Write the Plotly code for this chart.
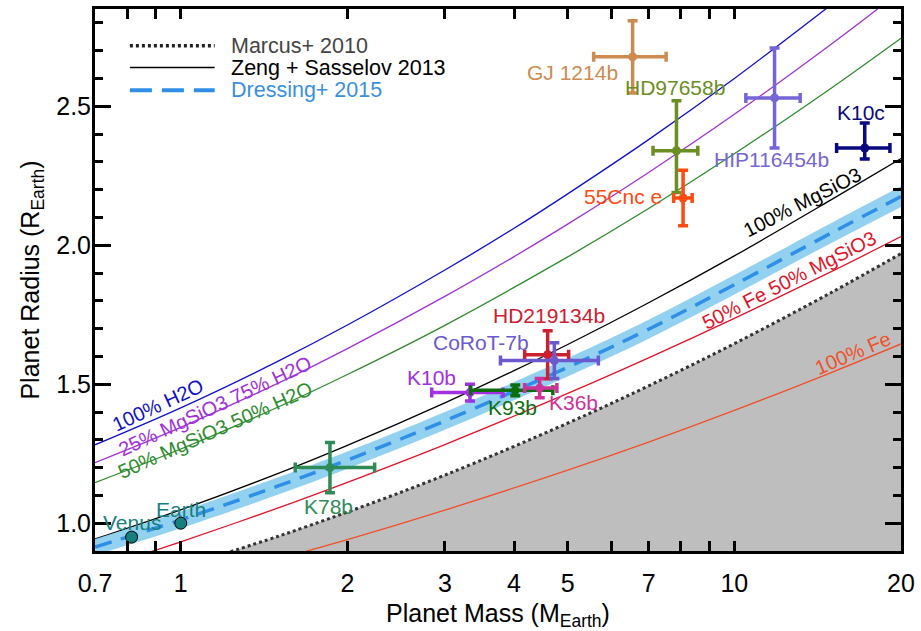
import numpy as np
import plotly.graph_objects as go

# ---------------- data ----------------
# composition curves (Zeng + Sasselov 2013)
h2o_m = [0.7, 1, 1.5, 2, 3, 4, 5, 7, 10, 15]
h2o_r = [1.282, 1.415, 1.583, 1.713, 1.911, 2.061, 2.185, 2.380, 2.600, 2.867]

mg25_m = [0.7, 1, 1.5, 2, 3, 4, 5, 7, 10, 15, 20]
mg25_r = [1.218, 1.345, 1.504, 1.628, 1.816, 1.959, 2.076, 2.262, 2.471, 2.725, 2.915]

mg50_m = [0.7, 1, 1.5, 2, 3, 5, 7, 10, 15, 20]
mg50_r = [1.146, 1.267, 1.418, 1.535, 1.712, 1.958, 2.132, 2.329, 2.567, 2.745]

mgsio3_m = [0.7, 1, 1.5, 2, 3, 4, 5, 7, 10, 15, 20]
mgsio3_r = [0.943, 1.048, 1.179, 1.280, 1.433, 1.549, 1.643, 1.793, 1.962, 2.165, 2.312]

fe50_m = [0.86, 1, 1.5, 2, 3, 5, 7, 10, 15, 20]
fe50_r = [0.890, 0.933, 1.055, 1.147, 1.283, 1.467, 1.595, 1.737, 1.906, 2.031]

fe100_m = [1.6, 2, 3, 5, 7, 10, 15, 20]
fe100_r = [0.887, 0.941, 1.047, 1.191, 1.292, 1.406, 1.543, 1.645]

# Marcus+ 2010 (maximum collisional stripping)
marcus_m = [1.2, 1.5, 2, 3, 5, 7, 10, 15, 20]
marcus_r = [0.891, 0.953, 1.040, 1.173, 1.360, 1.494, 1.646, 1.831, 1.970]

# Dressing+ 2015 (Earth-like composition) with its band
dressing_m = [0.7, 1, 1.5, 2, 3, 5, 7, 10, 15, 20]
dressing_r = [0.914, 1.012, 1.134, 1.227, 1.368, 1.561, 1.698, 1.858, 2.045, 2.175]
dressing_hi = [0.943, 1.042, 1.165, 1.258, 1.400, 1.594, 1.732, 1.893, 2.081, 2.212]
dressing_lo = [0.885, 0.982, 1.103, 1.196, 1.336, 1.528, 1.664, 1.823, 2.009, 2.138]

# Solar system
solar_names = ["Venus", "Earth"]
solar_m = [0.815, 1.0]
solar_r = [0.95, 1.0]
solar_label_m = [0.816, 1.0]
solar_label_r = [1.004, 1.05]

# exoplanets
planet_names = ["GJ 1214b", "HD97658b", "HIP116454b", "K10c", "55Cnc e",
                "HD219134b", "CoRoT-7b", "K10b", "K93b", "K36b", "K78b"]
planet_m = [6.55, 7.86, 11.82, 17.2, 8.08, 4.6, 4.73, 3.33, 4.02, 4.45, 1.86]
planet_m_ep = [0.98, 0.73, 1.33, 1.9, 0.31, 0.42, 0.95, 0.49, 0.68, 0.33, 0.38]
planet_m_em = [0.98, 0.73, 1.33, 1.9, 0.31, 0.42, 0.95, 0.49, 0.68, 0.27, 0.25]
planet_r = [2.678, 2.34, 2.53, 2.35, 2.17, 1.606, 1.585, 1.47, 1.478, 1.486, 1.20]
planet_r_ep = [0.13, 0.18, 0.18, 0.09, 0.10, 0.086, 0.064, 0.03, 0.019, 0.035, 0.09]
planet_r_em = [0.13, 0.15, 0.18, 0.04, 0.10, 0.086, 0.064, 0.03, 0.019, 0.035, 0.09]
planet_colors = ["#CD8B4F", "#6B8E23", "#7565D6", "#0A0A80", "#FF4A10",
                 "#CC2030", "#6A5ACD", "#A030E0", "#0E6E0E", "#CC3399", "#2E8B57"]
label_m = [5.11, 7.8, 11.66, 16.9, 6.29, 4.62, 3.49, 2.84, 3.97, 5.13, 1.849]
label_r = [2.621, 2.568, 2.307, 2.479, 2.175, 1.746, 1.65, 1.525, 1.418, 1.436, 1.061]

# curve labels
curve_labels = ["100% H2O", "25% MgSiO3 75% H2O", "50% MgSiO3 50% H2O",
                "100% MgSiO3", "50% Fe 50% MgSiO3", "100% Fe"]
curve_colors = ["#1010C8", "#A032D8", "#2E8B2E", "#000000", "#E0142A", "#F0502A"]
curve_label_m = [0.909, 1.154, 1.154, 13.3, 12.57, 16.39]
curve_label_r = [1.425, 1.421, 1.336, 2.154, 1.875, 1.611]
curve_label_angle = [-25, -25, -24, -27, -27, -23]

# axis ticks
x_tickvals = [0.7, 1, 2, 3, 4, 5, 7, 10, 20]
x_ticktext = ["0.7", "1", "2", "3", "4", "5", "7", "10", "20"]
x_minor_vals = [0.8, 0.9, 6, 8, 9]
y_tickvals = [1.0, 1.5, 2.0, 2.5]
y_ticktext = ["1.0", "1.5", "2.0", "2.5"]

FONT = "Liberation Sans, Arial, Helvetica, sans-serif"

fig = go.Figure()

# gray excluded region below Marcus+ 2010
fig.add_trace(go.Scatter(x=marcus_m, y=marcus_r, mode="lines", line=dict(width=0, shape="spline"),
                         fill="tozeroy", fillcolor="#BEBEBE", hoverinfo="skip", showlegend=False))

# composition curves
curves = [(h2o_m, h2o_r), (mg25_m, mg25_r), (mg50_m, mg50_r),
          (mgsio3_m, mgsio3_r), (fe50_m, fe50_r), (fe100_m, fe100_r)]
for (cm, cr), col in zip(curves, curve_colors):
    fig.add_trace(go.Scatter(x=cm, y=cr, mode="lines",
                             line=dict(color=col, width=1.3, shape="spline", smoothing=1.0),
                             showlegend=False))

# Marcus dotted line
fig.add_trace(go.Scatter(x=marcus_m, y=marcus_r, mode="lines",
                         line=dict(color="#333333", width=3, dash="3px,3px", shape="spline", smoothing=1.0),
                         showlegend=False))

# Dressing band + dashed line
fig.add_trace(go.Scatter(x=dressing_m, y=dressing_lo, mode="lines",
                         line=dict(width=0, shape="spline"), showlegend=False, hoverinfo="skip"))
fig.add_trace(go.Scatter(x=dressing_m, y=dressing_hi, mode="lines",
                         line=dict(width=0, shape="spline"), fill="tonexty",
                         fillcolor="rgba(135,204,240,0.9)", showlegend=False, hoverinfo="skip"))
fig.add_trace(go.Scatter(x=dressing_m, y=dressing_r, mode="lines",
                         line=dict(color="#2F8FE6", width=3.5, dash="17px,10px", shape="spline", smoothing=1.0),
                         showlegend=False))

# exoplanets with error bars
for i, name in enumerate(planet_names):
    col = planet_colors[i]
    fig.add_trace(go.Scatter(
        x=[planet_m[i]], y=[planet_r[i]], mode="markers",
        marker=dict(color=col, size=9),
        error_x=dict(type="data", symmetric=False, array=[planet_m_ep[i]], arrayminus=[planet_m_em[i]],
                     color=col, thickness=3.5, width=5),
        error_y=dict(type="data", symmetric=False, array=[planet_r_ep[i]], arrayminus=[planet_r_em[i]],
                     color=col, thickness=3.5, width=5),
        name=name, showlegend=False))

# Venus and Earth
fig.add_trace(go.Scatter(x=solar_m, y=solar_r, mode="markers",
                         marker=dict(color="#17807E", size=12, line=dict(color="black", width=1)),
                         showlegend=False))

annotations = []
for i, name in enumerate(planet_names):
    annotations.append(dict(x=np.log10(label_m[i]), y=label_r[i], text=name, showarrow=False,
                            font=dict(family=FONT, size=21, color=planet_colors[i]),
                            xanchor="center", yanchor="middle"))
for i, name in enumerate(solar_names):
    annotations.append(dict(x=np.log10(solar_label_m[i]), y=solar_label_r[i], text=name, showarrow=False,
                            font=dict(family=FONT, size=21, color="#17807E"),
                            xanchor="center", yanchor="middle"))
for i, name in enumerate(curve_labels):
    annotations.append(dict(x=np.log10(curve_label_m[i]), y=curve_label_r[i], text=name, showarrow=False,
                            textangle=curve_label_angle[i],
                            font=dict(family=FONT, size=20, color=curve_colors[i]),
                            xanchor="center", yanchor="middle"))

# manual legend (paper coordinates)
legend_items = [("Marcus+ 2010", "#444444", "#222222", "3px,3px", 3.5),
                ("Zeng + Sasselov 2013", "#000000", "#000000", "solid", 1.6),
                ("Dressing+ 2015", "#3A8FDD", "#2F8FE6", "22px,10px", 4)]
legend_y = [0.932, 0.892, 0.850]
shapes = []
for (txt, tcol, lcol, dash, lw), yy in zip(legend_items, legend_y):
    shapes.append(dict(type="line", xref="paper", yref="paper", x0=0.0433, x1=0.1485, y0=yy, y1=yy,
                       line=dict(color=lcol, width=lw, dash=dash)))
    annotations.append(dict(xref="paper", yref="paper", x=0.1658, y=yy, text=txt, showarrow=False,
                            xanchor="left", yanchor="middle",
                            font=dict(family=FONT, size=21.5, color=tcol)))

fig.update_layout(
    width=921, height=631,
    margin=dict(l=95, r=18, t=6, b=80),
    paper_bgcolor="white", plot_bgcolor="white",
    font=dict(family=FONT, color="black"),
    showlegend=False,
    annotations=annotations,
    shapes=shapes,
)
fig.update_xaxes(
    type="log", range=[np.log10(0.7), np.log10(20)],
    tickvals=x_tickvals, ticktext=x_ticktext,
    ticks="inside", ticklen=10, tickwidth=2.5, tickcolor="black",
    minor=dict(tickvals=x_minor_vals, ticks="inside", ticklen=10, tickwidth=2.5, tickcolor="black", showgrid=False),
    showline=True, linewidth=3, linecolor="black", mirror="allticks",
    showgrid=False, zeroline=False, ticklabelstandoff=8,
    tickfont=dict(family=FONT, size=25, color="black"),
    title=dict(text="Planet Mass (M<sub>Earth</sub>)", font=dict(family=FONT, size=25, color="black"), standoff=10),
)
fig.update_yaxes(
    range=[0.9, 2.85],
    tickvals=y_tickvals, ticktext=y_ticktext,
    ticks="inside", ticklen=16, tickwidth=2.5, tickcolor="black",
    minor=dict(dtick=0.1, tick0=0, ticks="inside", ticklen=8, tickwidth=2.5, tickcolor="black", showgrid=False),
    showline=True, linewidth=3, linecolor="black", mirror="allticks",
    showgrid=False, zeroline=False, ticklabelstandoff=-4,
    tickfont=dict(family=FONT, size=25, color="black"),
    title=dict(text="Planet Radius (R<sub>Earth</sub>)", font=dict(family=FONT, size=25, color="black"), standoff=10),
)

fig.write_html("out.html", config={"displayModeBar": False},
               post_script="document.body.style.margin='0';")
